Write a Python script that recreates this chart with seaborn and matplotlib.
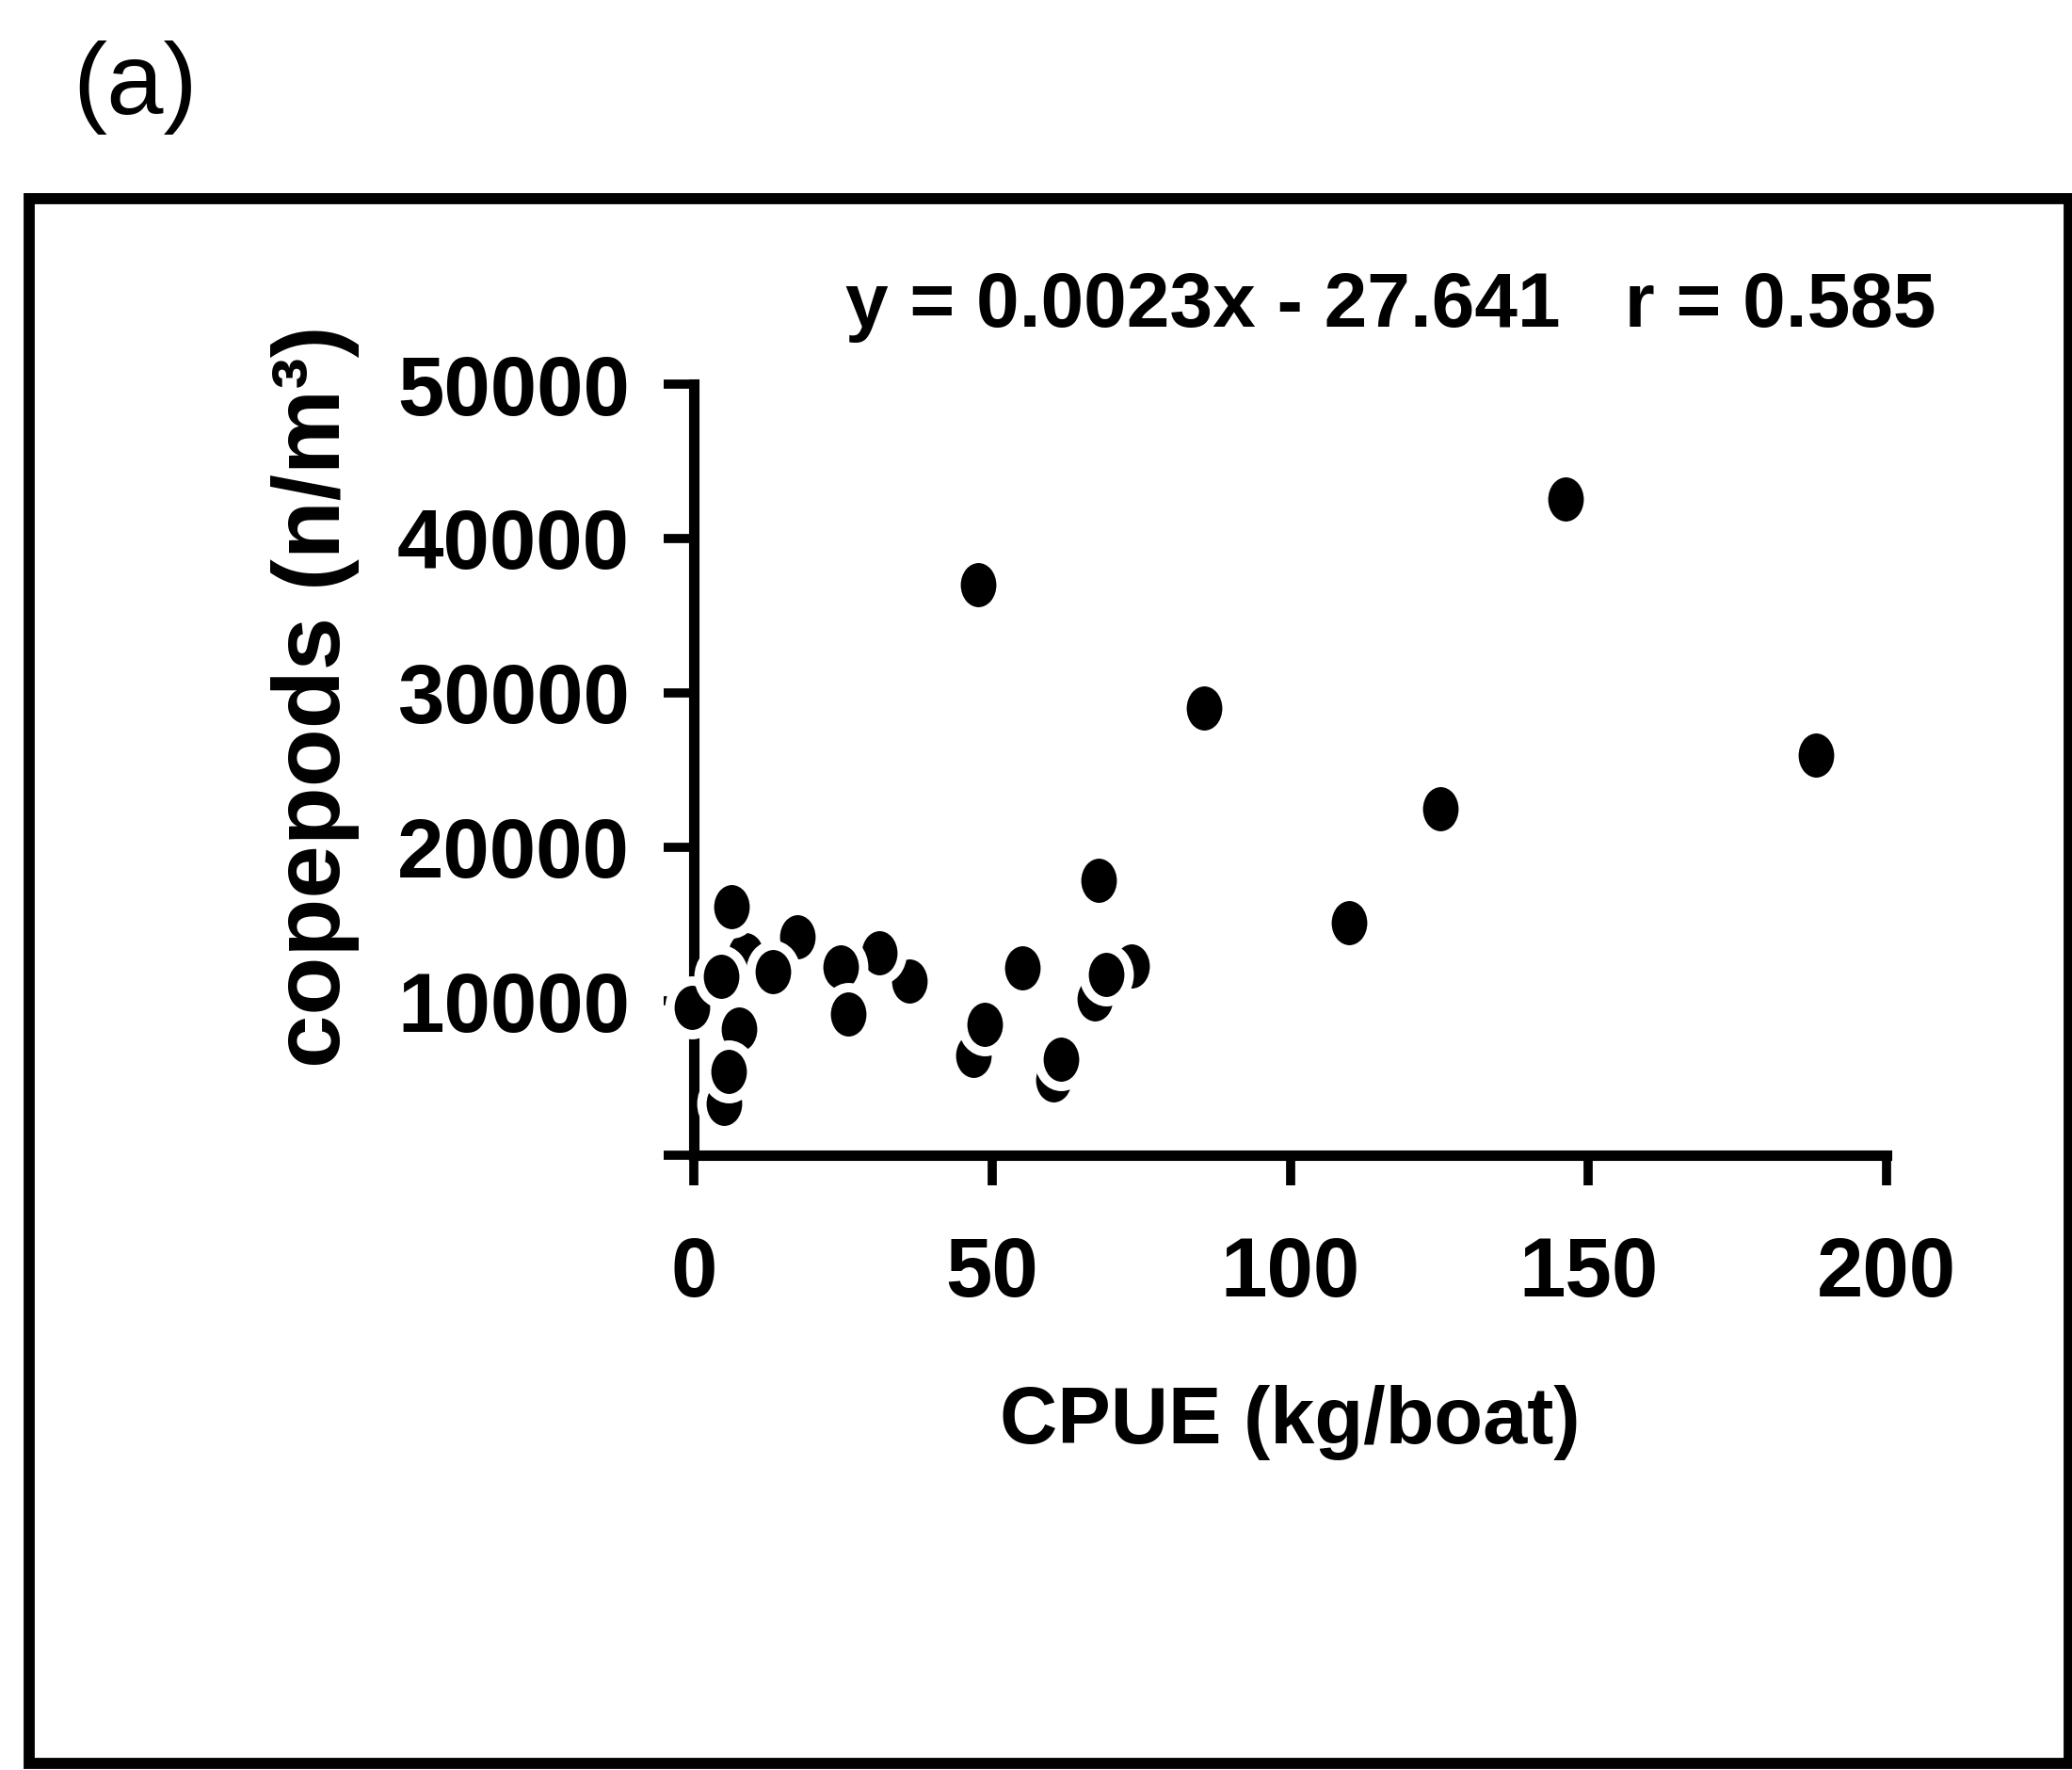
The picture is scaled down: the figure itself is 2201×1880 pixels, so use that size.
import numpy as np
import pandas as pd
import matplotlib
matplotlib.use("Agg")
import matplotlib.pyplot as plt
from matplotlib.path import Path
from matplotlib.transforms import Affine2D
from matplotlib.patches import Rectangle
import seaborn as sns

# ---- data ----
cpue = [8.6, 5.1, 46.9, 60.3, 67.2, 73.3, -0.4, 36.1, 31.0,
        6.3, 17.3, 4.6, 13.3, 24.6, 7.6, 25.8, 5.9, 55.0, 48.8, 61.5, 69.1,
        146.2, 47.6, 85.5, 188.2, 125.1, 67.8, 109.8]
copepods = [13000, 3360, 6470, 4900, 10130, 12270, 9590, 11280, 13140,
            16100, 14160, 11620, 11920, 12230, 8160, 9180, 5420, 12130, 8470, 6230, 11720,
            42550, 36990, 29000, 25980, 22500, 17810, 15090]
x_ticks = [0, 50, 100, 150, 200]
y_ticks = [0, 10000, 20000, 30000, 40000, 50000]
y_ticklabels = ["", "10000", "20000", "30000", "40000", "50000"]
equation = "y = 0.0023x - 27.641   r = 0.585"
panel_label = "(a)"
x_label = "CPUE (kg/boat)"
y_label = "copepods (n/m³)"

df = pd.DataFrame({"cpue": cpue, "copepods": copepods})

sns.set_style("white")
plt.rcParams["font.family"] = ["Liberation Sans", "DejaVu Sans"]
plt.rcParams["font.weight"] = "bold"
plt.rcParams["text.color"] = "black"
plt.rcParams["axes.labelcolor"] = "black"
plt.rcParams["axes.labelweight"] = "bold"
plt.rcParams["xtick.color"] = "black"
plt.rcParams["ytick.color"] = "black"

fig = plt.figure(figsize=(22.01, 18.80), dpi=100)
ax = fig.add_axes([0.3349, 0.3473, 0.5757, 0.4356])

# slightly elliptical filled marker
ell = Path.unit_circle().transformed(Affine2D().scale(0.84, 1.0))

sns.scatterplot(data=df, x="cpue", y="copepods", ax=ax, color="black",
                marker=ell, s=1680, edgecolor="white", linewidth=7.2,
                zorder=3, clip_on=False, legend=False)

ax.set_xlim(0, 200)
ax.set_ylim(0, 50000)
ax.set_xticks(x_ticks)
ax.set_xticklabels([str(v) for v in x_ticks], fontweight="bold")
ax.set_yticks(y_ticks)
ax.set_yticklabels(y_ticklabels, fontweight="bold")

for side in ["top", "right"]:
    ax.spines[side].set_visible(False)
for side in ["left", "bottom"]:
    ax.spines[side].set_linewidth(8)
    ax.spines[side].set_color("black")
    ax.spines[side].set_capstyle("projecting")

ax.tick_params(axis="x", direction="out", length=23, width=7, pad=38,
               labelsize=64, colors="black", bottom=True)
ax.tick_params(axis="y", direction="out", length=23, width=7, pad=26,
               labelsize=64, colors="black", left=True)

ax.set_xlabel(x_label, fontsize=61, fontweight="bold", color="black")
ax.xaxis.label.set_verticalalignment("center")
ax.xaxis.set_label_coords(0.5, -0.347)
ax.set_ylabel(y_label, fontsize=73, fontweight="bold", color="black")
ax.yaxis.label.set_verticalalignment("center")
ax.yaxis.set_label_coords(-0.317, 0.595)
ax.set_facecolor("white")

fig.text(0.408, 0.8154, equation, fontsize=59, ha="left", va="baseline",
         color="black", fontweight="bold")
fig.text(0.0654, 0.9505, panel_label, fontsize=78, ha="center", va="center",
         color="black", fontweight="normal")

fig.add_artist(Rectangle((0.0141, 0.0037), 0.9845, 0.8841,
                         transform=fig.transFigure, fill=False,
                         edgecolor="black", linewidth=8.5))

fig.savefig("out.png", dpi=100, facecolor="white")
